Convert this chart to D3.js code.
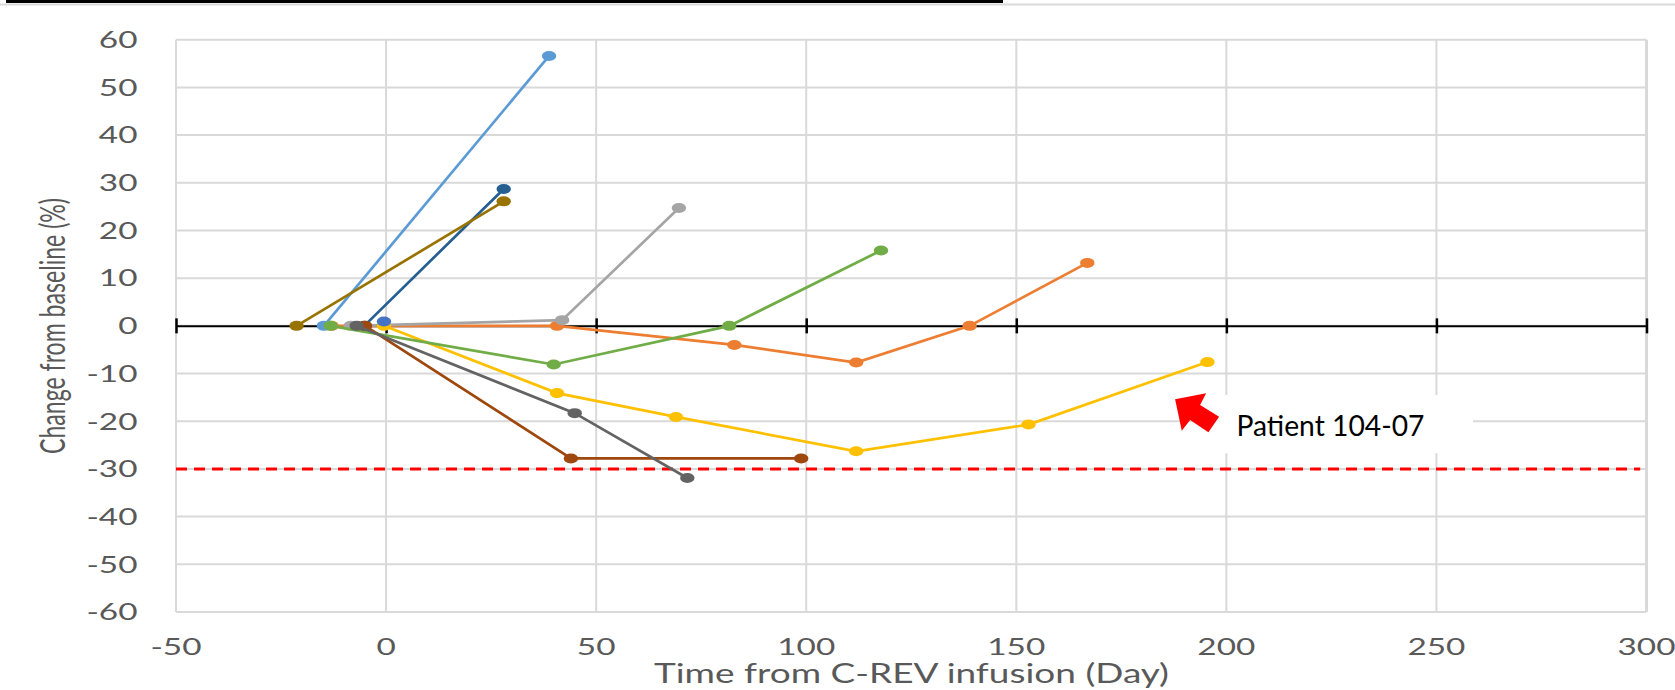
<!DOCTYPE html>
<html>
<head>
<meta charset="utf-8">
<script src="https://cdn.jsdelivr.net/npm/d3@7"></script>
<style>
  html, body { margin: 0; padding: 0; background: #fff; }
  svg { display: block; }
</style>
</head>
<body>
<svg id="chart"></svg>
<script>
// ---- data (day from infusion, % change from baseline) ----
const pt_blue      = [[-0.5, 0.9]];
const pt_orange    = [[-13, 0], [40.7, 0], [82.9, -4.0], [111.9, -7.7], [138.9, 0], [166.9, 13.2]];
const pt_gray      = [[-8.4, 0], [41.9, 1.2], [69.7, 24.7]];
const pt_gold      = [[-0.5, 0], [40.7, -14.1], [69, -19.1], [111.9, -26.3], [152.9, -20.7], [195.5, -7.6]];
const pt_lightblue = [[-14.8, 0], [38.8, 56.6]];
const pt_green     = [[-13.2, 0], [39.9, -8.1], [81.7, 0], [117.8, 15.8]];
const pt_darkblue  = [[-5.2, 0], [28, 28.7]];
const pt_brown     = [[-5, 0], [44, -27.8], [98.8, -27.8]];
const pt_darkgray  = [[-7, 0], [44.9, -18.3], [71.7, -31.9]];
const pt_olive     = [[-21.3, 0], [28, 26.1]];

// drawing order (the single blue point sits on top)
const series = [pt_orange, pt_gray, pt_gold, pt_lightblue, pt_green, pt_darkblue, pt_brown, pt_darkgray, pt_olive, pt_blue];
const colors = ["#ED7D31", "#A5A5A5", "#FFC000", "#5B9BD5", "#70AD47", "#255E91", "#9E480E", "#636363", "#997300", "#4472C4"];

const xTicks = [-50, 0, 50, 100, 150, 200, 250, 300];
const yTicks = [60, 50, 40, 30, 20, 10, 0, -10, -20, -30, -40, -50, -60];
const threshold = -30;
const xTitle = "Time from C-REV infusion (Day)";
const yTitle = "Change from baseline (%)";
const noteText = "Patient 104-07";

// ---- layout ----
const width = 1675, height = 690;
const stretch = 1.45;   // source image is stretched horizontally
const labelColor = "#595959";
const gridColor = "#D9D9D9";

const svg = d3.select("#chart")
    .attr("width", width)
    .attr("height", height)
    .style("font-family", "Lato, 'Open Sans', sans-serif");

const x = d3.scaleLinear().domain([-50, 300]).range([176, 1646.5]);
const y = d3.scaleLinear().domain([-60, 60]).range([612, 39.7]);

// cropped title underline at the very top
svg.append("line")
    .attr("x1", 0).attr("x2", width)
    .attr("y1", 4.5).attr("y2", 4.5)
    .attr("stroke", gridColor).attr("stroke-width", 2);
svg.append("rect")
    .attr("x", 6).attr("y", 0)
    .attr("width", 997).attr("height", 3)
    .attr("fill", "#000");

// gridlines
const grid = svg.append("g").attr("class", "grid");
grid.selectAll("line.h")
    .data(yTicks)
    .enter().append("line")
    .attr("class", "h")
    .attr("x1", x(-50)).attr("x2", x(300))
    .attr("y1", d => y(d)).attr("y2", d => y(d))
    .attr("stroke", gridColor)
    .attr("stroke-width", 2);
grid.selectAll("line.v")
    .data(xTicks)
    .enter().append("line")
    .attr("class", "v")
    .attr("x1", d => x(d)).attr("x2", d => x(d))
    .attr("y1", y(60)).attr("y2", y(-60))
    .attr("stroke", gridColor)
    .attr("stroke-width", d => d === 300 ? 3 : 2);

// annotation box (white, hides the grid behind it)
svg.append("rect")
    .attr("x", x(192.8))
    .attr("y", y(-14.5))
    .attr("width", x(258.7) - x(192.8))
    .attr("height", y(-26.7) - y(-14.5))
    .attr("fill", "#fff");

// zero axis with cross ticks
const xAxis = d3.axisBottom(x)
    .tickValues(xTicks)
    .tickSize(0)
    .tickFormat("");
const axisG = svg.append("g")
    .attr("transform", `translate(0,${y(0)})`)
    .call(xAxis);
axisG.select(".domain").attr("stroke", "#000").attr("stroke-width", 2);
axisG.selectAll(".tick line")
    .attr("y1", -7.5).attr("y2", 7.5)
    .attr("stroke", "#000").attr("stroke-width", 2.5);

// threshold line
svg.append("line")
    .attr("x1", x(-50)).attr("x2", x(298.5))
    .attr("y1", y(threshold)).attr("y2", y(threshold))
    .attr("stroke", "#FF0000")
    .attr("stroke-width", 3)
    .attr("stroke-dasharray", "11,7");

// tick labels
svg.append("g").selectAll("text")
    .data(yTicks)
    .enter().append("text")
    .attr("transform", d => `translate(137.5,${y(d)}) scale(${stretch},1)`)
    .attr("dy", "0.36em")
    .attr("text-anchor", "end")
    .attr("font-size", 23)
    .attr("fill", labelColor)
    .text(d => d);

svg.append("g").selectAll("text")
    .data(xTicks)
    .enter().append("text")
    .attr("transform", d => `translate(${x(d)},654.5) scale(${stretch},1)`)
    .attr("text-anchor", "middle")
    .attr("font-size", 23)
    .attr("fill", labelColor)
    .text(d => d);

// axis titles
svg.append("text")
    .attr("x", 654)
    .attr("y", 683)
    .attr("font-size", 26)
    .attr("fill", labelColor)
    .attr("textLength", 515)
    .attr("lengthAdjust", "spacingAndGlyphs")
    .text(xTitle);

svg.append("text")
    .attr("transform", `translate(64.5,326) scale(1.44,1) rotate(-90)`)
    .attr("text-anchor", "middle")
    .attr("font-size", 24)
    .attr("fill", labelColor)
    .attr("textLength", 256)
    .attr("lengthAdjust", "spacingAndGlyphs")
    .text(yTitle);

// series lines and markers
const line = d3.line()
    .x(d => x(d[0]))
    .y(d => y(d[1]));

series.forEach((s, i) => {
    const g = svg.append("g").attr("class", "series");
    if (s.length > 1) {
        g.append("path")
            .datum(s)
            .attr("d", line)
            .attr("fill", "none")
            .attr("stroke", colors[i])
            .attr("stroke-width", 2.7);
    }
    g.selectAll("ellipse")
        .data(s)
        .enter().append("ellipse")
        .attr("cx", d => x(d[0]))
        .attr("cy", d => y(d[1]))
        .attr("rx", 7.2)
        .attr("ry", 5)
        .attr("fill", colors[i]);
});

// red block arrow pointing up-left
const tipX = x(187.8), tipY = y(-15.4);
const arrow = [[0, 0], [31, -6], [25, 5.7], [44, 17.4], [33.3, 33], [15, 20.7], [6.7, 31.4]];
svg.append("polygon")
    .attr("points", arrow.map(p => [tipX + p[0], tipY + p[1]].join(",")).join(" "))
    .attr("fill", "#FF0000");

svg.append("text")
    .attr("x", x(202.4))
    .attr("y", y(-23))
    .attr("font-size", 29)
    .attr("fill", "#000")
    .attr("textLength", 188)
    .attr("lengthAdjust", "spacingAndGlyphs")
    .text(noteText);
</script>
</body>
</html>
